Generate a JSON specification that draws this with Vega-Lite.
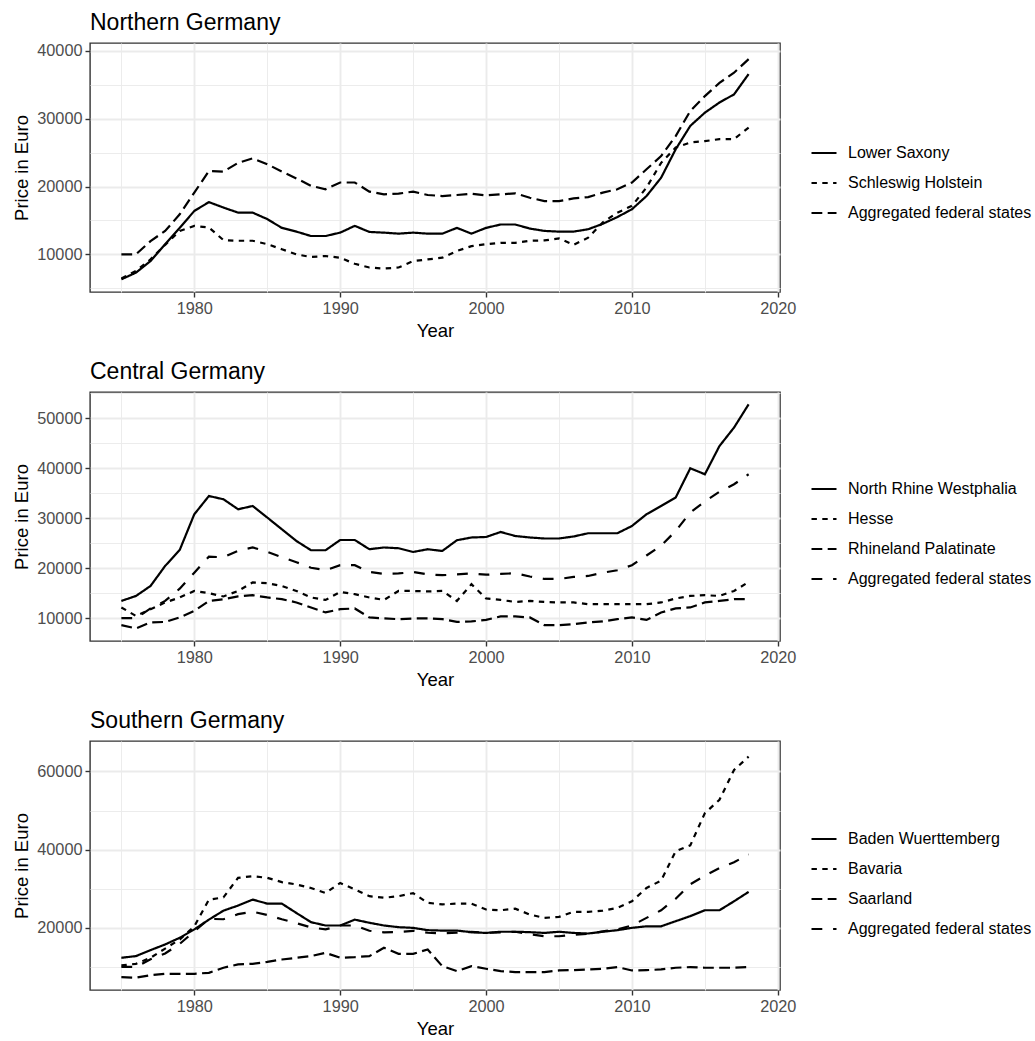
{
"$schema": "https://vega.github.io/schema/vega-lite/v6.json",
"padding": {"left": 12, "top": 11, "right": 0, "bottom": 0},
"background": "white",
"config": {
  "font": "Liberation Sans",
  "view": {"stroke": "#333333", "strokeWidth": 1.4},
  "axis": {"labelFont": "Liberation Sans", "labelFontSize": 16.3, "labelColor": "#4D4D4D", "titleFont": "Liberation Sans", "titleFontSize": 18.5, "titleFontWeight": "normal", "titleColor": "#000000", "domain": false, "tickColor": "#333333", "tickSize": 5, "tickWidth": 1.4, "gridColor": "#EBEBEB", "labelPadding": 3, "titlePadding": 5},
  "title": {"fontSize": 23, "fontWeight": "normal", "anchor": "start", "frame": "group", "color": "#000000", "offset": 8, "font": "Liberation Sans"},
  "legend": {"orient": "none", "title": null, "labelFont": "Liberation Sans", "labelFontSize": 16, "labelColor": "#000000", "labelLimit": 0, "symbolType": "stroke", "symbolSize": 625, "symbolStrokeWidth": 2.2, "symbolStrokeColor": "#000000", "rowPadding": 8, "labelOffset": 10, "padding": 0, "legendX": 720},
  "concat": {"spacing": 19}
},
"datasets": {"d": [
{"region":"North","state":"Lower Saxony","year":1975,"price":6310},{"region":"North","state":"Lower Saxony","year":1976,"price":7300},{"region":"North","state":"Lower Saxony","year":1977,"price":9000},{"region":"North","state":"Lower Saxony","year":1978,"price":11500},{"region":"North","state":"Lower Saxony","year":1979,"price":13900},{"region":"North","state":"Lower Saxony","year":1980,"price":16400},{"region":"North","state":"Lower Saxony","year":1981,"price":17700},{"region":"North","state":"Lower Saxony","year":1982,"price":16900},{"region":"North","state":"Lower Saxony","year":1983,"price":16150},{"region":"North","state":"Lower Saxony","year":1984,"price":16150},
{"region":"North","state":"Lower Saxony","year":1985,"price":15200},{"region":"North","state":"Lower Saxony","year":1986,"price":13900},{"region":"North","state":"Lower Saxony","year":1987,"price":13350},{"region":"North","state":"Lower Saxony","year":1988,"price":12700},{"region":"North","state":"Lower Saxony","year":1989,"price":12700},{"region":"North","state":"Lower Saxony","year":1990,"price":13200},{"region":"North","state":"Lower Saxony","year":1991,"price":14200},{"region":"North","state":"Lower Saxony","year":1992,"price":13300},{"region":"North","state":"Lower Saxony","year":1993,"price":13200},{"region":"North","state":"Lower Saxony","year":1994,"price":13050},
{"region":"North","state":"Lower Saxony","year":1995,"price":13200},{"region":"North","state":"Lower Saxony","year":1996,"price":13050},{"region":"North","state":"Lower Saxony","year":1997,"price":13050},{"region":"North","state":"Lower Saxony","year":1998,"price":13900},{"region":"North","state":"Lower Saxony","year":1999,"price":13050},{"region":"North","state":"Lower Saxony","year":2000,"price":13900},{"region":"North","state":"Lower Saxony","year":2001,"price":14400},{"region":"North","state":"Lower Saxony","year":2002,"price":14400},{"region":"North","state":"Lower Saxony","year":2003,"price":13800},{"region":"North","state":"Lower Saxony","year":2004,"price":13450},
{"region":"North","state":"Lower Saxony","year":2005,"price":13350},{"region":"North","state":"Lower Saxony","year":2006,"price":13350},{"region":"North","state":"Lower Saxony","year":2007,"price":13700},{"region":"North","state":"Lower Saxony","year":2008,"price":14500},{"region":"North","state":"Lower Saxony","year":2009,"price":15500},{"region":"North","state":"Lower Saxony","year":2010,"price":16650},{"region":"North","state":"Lower Saxony","year":2011,"price":18600},{"region":"North","state":"Lower Saxony","year":2012,"price":21300},{"region":"North","state":"Lower Saxony","year":2013,"price":25500},{"region":"North","state":"Lower Saxony","year":2014,"price":28950},
{"region":"North","state":"Lower Saxony","year":2015,"price":30900},{"region":"North","state":"Lower Saxony","year":2016,"price":32400},{"region":"North","state":"Lower Saxony","year":2017,"price":33600},{"region":"North","state":"Lower Saxony","year":2018,"price":36600},
{"region":"North","state":"Schleswig Holstein","year":1975,"price":6450},{"region":"North","state":"Schleswig Holstein","year":1976,"price":7550},{"region":"North","state":"Schleswig Holstein","year":1977,"price":9250},{"region":"North","state":"Schleswig Holstein","year":1978,"price":11400},{"region":"North","state":"Schleswig Holstein","year":1979,"price":13450},{"region":"North","state":"Schleswig Holstein","year":1980,"price":14200},{"region":"North","state":"Schleswig Holstein","year":1981,"price":13950},{"region":"North","state":"Schleswig Holstein","year":1982,"price":12100},{"region":"North","state":"Schleswig Holstein","year":1983,"price":12000},{"region":"North","state":"Schleswig Holstein","year":1984,"price":12000},
{"region":"North","state":"Schleswig Holstein","year":1985,"price":11500},{"region":"North","state":"Schleswig Holstein","year":1986,"price":10750},{"region":"North","state":"Schleswig Holstein","year":1987,"price":10000},{"region":"North","state":"Schleswig Holstein","year":1988,"price":9600},{"region":"North","state":"Schleswig Holstein","year":1989,"price":9750},{"region":"North","state":"Schleswig Holstein","year":1990,"price":9500},{"region":"North","state":"Schleswig Holstein","year":1991,"price":8600},{"region":"North","state":"Schleswig Holstein","year":1992,"price":8050},{"region":"North","state":"Schleswig Holstein","year":1993,"price":7900},{"region":"North","state":"Schleswig Holstein","year":1994,"price":8050},
{"region":"North","state":"Schleswig Holstein","year":1995,"price":9000},{"region":"North","state":"Schleswig Holstein","year":1996,"price":9250},{"region":"North","state":"Schleswig Holstein","year":1997,"price":9500},{"region":"North","state":"Schleswig Holstein","year":1998,"price":10500},{"region":"North","state":"Schleswig Holstein","year":1999,"price":11200},{"region":"North","state":"Schleswig Holstein","year":2000,"price":11500},{"region":"North","state":"Schleswig Holstein","year":2001,"price":11700},{"region":"North","state":"Schleswig Holstein","year":2002,"price":11700},{"region":"North","state":"Schleswig Holstein","year":2003,"price":12000},{"region":"North","state":"Schleswig Holstein","year":2004,"price":12050},
{"region":"North","state":"Schleswig Holstein","year":2005,"price":12350},{"region":"North","state":"Schleswig Holstein","year":2006,"price":11400},{"region":"North","state":"Schleswig Holstein","year":2007,"price":12450},{"region":"North","state":"Schleswig Holstein","year":2008,"price":14700},{"region":"North","state":"Schleswig Holstein","year":2009,"price":16150},{"region":"North","state":"Schleswig Holstein","year":2010,"price":17150},{"region":"North","state":"Schleswig Holstein","year":2011,"price":19850},{"region":"North","state":"Schleswig Holstein","year":2012,"price":23500},{"region":"North","state":"Schleswig Holstein","year":2013,"price":25750},{"region":"North","state":"Schleswig Holstein","year":2014,"price":26500},
{"region":"North","state":"Schleswig Holstein","year":2015,"price":26700},{"region":"North","state":"Schleswig Holstein","year":2016,"price":27000},{"region":"North","state":"Schleswig Holstein","year":2017,"price":27000},{"region":"North","state":"Schleswig Holstein","year":2018,"price":28700},
{"region":"All","state":"Aggregated federal states","year":1975,"price":10000},{"region":"All","state":"Aggregated federal states","year":1976,"price":10000},{"region":"All","state":"Aggregated federal states","year":1977,"price":11950},{"region":"All","state":"Aggregated federal states","year":1978,"price":13450},{"region":"All","state":"Aggregated federal states","year":1979,"price":15900},{"region":"All","state":"Aggregated federal states","year":1980,"price":19100},{"region":"All","state":"Aggregated federal states","year":1981,"price":22300},{"region":"All","state":"Aggregated federal states","year":1982,"price":22200},{"region":"All","state":"Aggregated federal states","year":1983,"price":23500},{"region":"All","state":"Aggregated federal states","year":1984,"price":24150},
{"region":"All","state":"Aggregated federal states","year":1985,"price":23300},{"region":"All","state":"Aggregated federal states","year":1986,"price":22200},{"region":"All","state":"Aggregated federal states","year":1987,"price":21200},{"region":"All","state":"Aggregated federal states","year":1988,"price":20100},{"region":"All","state":"Aggregated federal states","year":1989,"price":19600},{"region":"All","state":"Aggregated federal states","year":1990,"price":20600},{"region":"All","state":"Aggregated federal states","year":1991,"price":20600},{"region":"All","state":"Aggregated federal states","year":1992,"price":19250},{"region":"All","state":"Aggregated federal states","year":1993,"price":18850},{"region":"All","state":"Aggregated federal states","year":1994,"price":18950},
{"region":"All","state":"Aggregated federal states","year":1995,"price":19250},{"region":"All","state":"Aggregated federal states","year":1996,"price":18750},{"region":"All","state":"Aggregated federal states","year":1997,"price":18600},{"region":"All","state":"Aggregated federal states","year":1998,"price":18750},{"region":"All","state":"Aggregated federal states","year":1999,"price":18950},{"region":"All","state":"Aggregated federal states","year":2000,"price":18700},{"region":"All","state":"Aggregated federal states","year":2001,"price":18850},{"region":"All","state":"Aggregated federal states","year":2002,"price":19000},{"region":"All","state":"Aggregated federal states","year":2003,"price":18350},{"region":"All","state":"Aggregated federal states","year":2004,"price":17850},
{"region":"All","state":"Aggregated federal states","year":2005,"price":17850},{"region":"All","state":"Aggregated federal states","year":2006,"price":18250},{"region":"All","state":"Aggregated federal states","year":2007,"price":18450},{"region":"All","state":"Aggregated federal states","year":2008,"price":19100},{"region":"All","state":"Aggregated federal states","year":2009,"price":19600},{"region":"All","state":"Aggregated federal states","year":2010,"price":20600},{"region":"All","state":"Aggregated federal states","year":2011,"price":22550},{"region":"All","state":"Aggregated federal states","year":2012,"price":24500},{"region":"All","state":"Aggregated federal states","year":2013,"price":27450},{"region":"All","state":"Aggregated federal states","year":2014,"price":31150},
{"region":"All","state":"Aggregated federal states","year":2015,"price":33350},{"region":"All","state":"Aggregated federal states","year":2016,"price":35300},{"region":"All","state":"Aggregated federal states","year":2017,"price":36800},{"region":"All","state":"Aggregated federal states","year":2018,"price":38800},
{"region":"Central","state":"North Rhine Westphalia","year":1975,"price":13450},{"region":"Central","state":"North Rhine Westphalia","year":1976,"price":14450},{"region":"Central","state":"North Rhine Westphalia","year":1977,"price":16450},{"region":"Central","state":"North Rhine Westphalia","year":1978,"price":20450},{"region":"Central","state":"North Rhine Westphalia","year":1979,"price":23650},{"region":"Central","state":"North Rhine Westphalia","year":1980,"price":30800},{"region":"Central","state":"North Rhine Westphalia","year":1981,"price":34450},{"region":"Central","state":"North Rhine Westphalia","year":1982,"price":33800},{"region":"Central","state":"North Rhine Westphalia","year":1983,"price":31800},{"region":"Central","state":"North Rhine Westphalia","year":1984,"price":32450},
{"region":"Central","state":"North Rhine Westphalia","year":1985,"price":30150},{"region":"Central","state":"North Rhine Westphalia","year":1986,"price":27800},{"region":"Central","state":"North Rhine Westphalia","year":1987,"price":25450},{"region":"Central","state":"North Rhine Westphalia","year":1988,"price":23600},{"region":"Central","state":"North Rhine Westphalia","year":1989,"price":23600},{"region":"Central","state":"North Rhine Westphalia","year":1990,"price":25650},{"region":"Central","state":"North Rhine Westphalia","year":1991,"price":25650},{"region":"Central","state":"North Rhine Westphalia","year":1992,"price":23800},{"region":"Central","state":"North Rhine Westphalia","year":1993,"price":24150},{"region":"Central","state":"North Rhine Westphalia","year":1994,"price":24000},
{"region":"Central","state":"North Rhine Westphalia","year":1995,"price":23250},{"region":"Central","state":"North Rhine Westphalia","year":1996,"price":23800},{"region":"Central","state":"North Rhine Westphalia","year":1997,"price":23450},{"region":"Central","state":"North Rhine Westphalia","year":1998,"price":25600},{"region":"Central","state":"North Rhine Westphalia","year":1999,"price":26150},{"region":"Central","state":"North Rhine Westphalia","year":2000,"price":26250},{"region":"Central","state":"North Rhine Westphalia","year":2001,"price":27250},{"region":"Central","state":"North Rhine Westphalia","year":2002,"price":26450},{"region":"Central","state":"North Rhine Westphalia","year":2003,"price":26150},{"region":"Central","state":"North Rhine Westphalia","year":2004,"price":25950},
{"region":"Central","state":"North Rhine Westphalia","year":2005,"price":25950},{"region":"Central","state":"North Rhine Westphalia","year":2006,"price":26350},{"region":"Central","state":"North Rhine Westphalia","year":2007,"price":27000},{"region":"Central","state":"North Rhine Westphalia","year":2008,"price":27000},{"region":"Central","state":"North Rhine Westphalia","year":2009,"price":27000},{"region":"Central","state":"North Rhine Westphalia","year":2010,"price":28450},{"region":"Central","state":"North Rhine Westphalia","year":2011,"price":30800},{"region":"Central","state":"North Rhine Westphalia","year":2012,"price":32450},{"region":"Central","state":"North Rhine Westphalia","year":2013,"price":34150},{"region":"Central","state":"North Rhine Westphalia","year":2014,"price":40000},
{"region":"Central","state":"North Rhine Westphalia","year":2015,"price":38800},{"region":"Central","state":"North Rhine Westphalia","year":2016,"price":44450},{"region":"Central","state":"North Rhine Westphalia","year":2017,"price":48150},{"region":"Central","state":"North Rhine Westphalia","year":2018,"price":52800},
{"region":"Central","state":"Hesse","year":1975,"price":12150},{"region":"Central","state":"Hesse","year":1976,"price":10450},{"region":"Central","state":"Hesse","year":1977,"price":11800},{"region":"Central","state":"Hesse","year":1978,"price":13150},{"region":"Central","state":"Hesse","year":1979,"price":14150},{"region":"Central","state":"Hesse","year":1980,"price":15450},{"region":"Central","state":"Hesse","year":1981,"price":15000},{"region":"Central","state":"Hesse","year":1982,"price":14350},{"region":"Central","state":"Hesse","year":1983,"price":15450},{"region":"Central","state":"Hesse","year":1984,"price":17150},
{"region":"Central","state":"Hesse","year":1985,"price":17000},{"region":"Central","state":"Hesse","year":1986,"price":16450},{"region":"Central","state":"Hesse","year":1987,"price":15450},{"region":"Central","state":"Hesse","year":1988,"price":14150},{"region":"Central","state":"Hesse","year":1989,"price":13650},{"region":"Central","state":"Hesse","year":1990,"price":15250},{"region":"Central","state":"Hesse","year":1991,"price":14800},{"region":"Central","state":"Hesse","year":1992,"price":14150},{"region":"Central","state":"Hesse","year":1993,"price":13650},{"region":"Central","state":"Hesse","year":1994,"price":15450},
{"region":"Central","state":"Hesse","year":1995,"price":15450},{"region":"Central","state":"Hesse","year":1996,"price":15350},{"region":"Central","state":"Hesse","year":1997,"price":15450},{"region":"Central","state":"Hesse","year":1998,"price":13450},{"region":"Central","state":"Hesse","year":1999,"price":16800},{"region":"Central","state":"Hesse","year":2000,"price":13950},{"region":"Central","state":"Hesse","year":2001,"price":13650},{"region":"Central","state":"Hesse","year":2002,"price":13250},{"region":"Central","state":"Hesse","year":2003,"price":13450},{"region":"Central","state":"Hesse","year":2004,"price":13250},
{"region":"Central","state":"Hesse","year":2005,"price":13150},{"region":"Central","state":"Hesse","year":2006,"price":13150},{"region":"Central","state":"Hesse","year":2007,"price":12800},{"region":"Central","state":"Hesse","year":2008,"price":12800},{"region":"Central","state":"Hesse","year":2009,"price":12800},{"region":"Central","state":"Hesse","year":2010,"price":12800},{"region":"Central","state":"Hesse","year":2011,"price":12800},{"region":"Central","state":"Hesse","year":2012,"price":13150},{"region":"Central","state":"Hesse","year":2013,"price":13950},{"region":"Central","state":"Hesse","year":2014,"price":14450},
{"region":"Central","state":"Hesse","year":2015,"price":14600},{"region":"Central","state":"Hesse","year":2016,"price":14450},{"region":"Central","state":"Hesse","year":2017,"price":15450},{"region":"Central","state":"Hesse","year":2018,"price":17250},
{"region":"Central","state":"Rhineland Palatinate","year":1975,"price":8600},{"region":"Central","state":"Rhineland Palatinate","year":1976,"price":7950},{"region":"Central","state":"Rhineland Palatinate","year":1977,"price":9150},{"region":"Central","state":"Rhineland Palatinate","year":1978,"price":9250},{"region":"Central","state":"Rhineland Palatinate","year":1979,"price":10150},{"region":"Central","state":"Rhineland Palatinate","year":1980,"price":11450},{"region":"Central","state":"Rhineland Palatinate","year":1981,"price":13450},{"region":"Central","state":"Rhineland Palatinate","year":1982,"price":13800},{"region":"Central","state":"Rhineland Palatinate","year":1983,"price":14350},{"region":"Central","state":"Rhineland Palatinate","year":1984,"price":14600},
{"region":"Central","state":"Rhineland Palatinate","year":1985,"price":14150},{"region":"Central","state":"Rhineland Palatinate","year":1986,"price":13800},{"region":"Central","state":"Rhineland Palatinate","year":1987,"price":13150},{"region":"Central","state":"Rhineland Palatinate","year":1988,"price":12150},{"region":"Central","state":"Rhineland Palatinate","year":1989,"price":11150},{"region":"Central","state":"Rhineland Palatinate","year":1990,"price":11800},{"region":"Central","state":"Rhineland Palatinate","year":1991,"price":11950},{"region":"Central","state":"Rhineland Palatinate","year":1992,"price":10150},{"region":"Central","state":"Rhineland Palatinate","year":1993,"price":9950},{"region":"Central","state":"Rhineland Palatinate","year":1994,"price":9800},
{"region":"Central","state":"Rhineland Palatinate","year":1995,"price":9950},{"region":"Central","state":"Rhineland Palatinate","year":1996,"price":9950},{"region":"Central","state":"Rhineland Palatinate","year":1997,"price":9800},{"region":"Central","state":"Rhineland Palatinate","year":1998,"price":9250},{"region":"Central","state":"Rhineland Palatinate","year":1999,"price":9350},{"region":"Central","state":"Rhineland Palatinate","year":2000,"price":9650},{"region":"Central","state":"Rhineland Palatinate","year":2001,"price":10350},{"region":"Central","state":"Rhineland Palatinate","year":2002,"price":10350},{"region":"Central","state":"Rhineland Palatinate","year":2003,"price":10150},{"region":"Central","state":"Rhineland Palatinate","year":2004,"price":8600},
{"region":"Central","state":"Rhineland Palatinate","year":2005,"price":8600},{"region":"Central","state":"Rhineland Palatinate","year":2006,"price":8800},{"region":"Central","state":"Rhineland Palatinate","year":2007,"price":9150},{"region":"Central","state":"Rhineland Palatinate","year":2008,"price":9350},{"region":"Central","state":"Rhineland Palatinate","year":2009,"price":9800},{"region":"Central","state":"Rhineland Palatinate","year":2010,"price":10150},{"region":"Central","state":"Rhineland Palatinate","year":2011,"price":9650},{"region":"Central","state":"Rhineland Palatinate","year":2012,"price":11150},{"region":"Central","state":"Rhineland Palatinate","year":2013,"price":11950},{"region":"Central","state":"Rhineland Palatinate","year":2014,"price":12150},
{"region":"Central","state":"Rhineland Palatinate","year":2015,"price":13150},{"region":"Central","state":"Rhineland Palatinate","year":2016,"price":13450},{"region":"Central","state":"Rhineland Palatinate","year":2017,"price":13800},{"region":"Central","state":"Rhineland Palatinate","year":2018,"price":13800},
{"region":"South","state":"Baden Wuerttemberg","year":1975,"price":12340},{"region":"South","state":"Baden Wuerttemberg","year":1976,"price":12770},{"region":"South","state":"Baden Wuerttemberg","year":1977,"price":14300},{"region":"South","state":"Baden Wuerttemberg","year":1978,"price":15750},{"region":"South","state":"Baden Wuerttemberg","year":1979,"price":17450},{"region":"South","state":"Baden Wuerttemberg","year":1980,"price":19600},{"region":"South","state":"Baden Wuerttemberg","year":1981,"price":22100},{"region":"South","state":"Baden Wuerttemberg","year":1982,"price":24400},{"region":"South","state":"Baden Wuerttemberg","year":1983,"price":25700},{"region":"South","state":"Baden Wuerttemberg","year":1984,"price":27230},
{"region":"South","state":"Baden Wuerttemberg","year":1985,"price":26200},{"region":"South","state":"Baden Wuerttemberg","year":1986,"price":26200},{"region":"South","state":"Baden Wuerttemberg","year":1987,"price":23800},{"region":"South","state":"Baden Wuerttemberg","year":1988,"price":21450},{"region":"South","state":"Baden Wuerttemberg","year":1989,"price":20600},{"region":"South","state":"Baden Wuerttemberg","year":1990,"price":20600},{"region":"South","state":"Baden Wuerttemberg","year":1991,"price":22100},{"region":"South","state":"Baden Wuerttemberg","year":1992,"price":21300},{"region":"South","state":"Baden Wuerttemberg","year":1993,"price":20600},{"region":"South","state":"Baden Wuerttemberg","year":1994,"price":20170},
{"region":"South","state":"Baden Wuerttemberg","year":1995,"price":20000},{"region":"South","state":"Baden Wuerttemberg","year":1996,"price":19400},{"region":"South","state":"Baden Wuerttemberg","year":1997,"price":19300},{"region":"South","state":"Baden Wuerttemberg","year":1998,"price":19300},{"region":"South","state":"Baden Wuerttemberg","year":1999,"price":18900},{"region":"South","state":"Baden Wuerttemberg","year":2000,"price":18700},{"region":"South","state":"Baden Wuerttemberg","year":2001,"price":19000},{"region":"South","state":"Baden Wuerttemberg","year":2002,"price":19000},{"region":"South","state":"Baden Wuerttemberg","year":2003,"price":18900},{"region":"South","state":"Baden Wuerttemberg","year":2004,"price":18700},
{"region":"South","state":"Baden Wuerttemberg","year":2005,"price":19000},{"region":"South","state":"Baden Wuerttemberg","year":2006,"price":18700},{"region":"South","state":"Baden Wuerttemberg","year":2007,"price":18550},{"region":"South","state":"Baden Wuerttemberg","year":2008,"price":19000},{"region":"South","state":"Baden Wuerttemberg","year":2009,"price":19400},{"region":"South","state":"Baden Wuerttemberg","year":2010,"price":20000},{"region":"South","state":"Baden Wuerttemberg","year":2011,"price":20400},{"region":"South","state":"Baden Wuerttemberg","year":2012,"price":20400},{"region":"South","state":"Baden Wuerttemberg","year":2013,"price":21700},{"region":"South","state":"Baden Wuerttemberg","year":2014,"price":23000},
{"region":"South","state":"Baden Wuerttemberg","year":2015,"price":24500},{"region":"South","state":"Baden Wuerttemberg","year":2016,"price":24500},{"region":"South","state":"Baden Wuerttemberg","year":2017,"price":26800},{"region":"South","state":"Baden Wuerttemberg","year":2018,"price":29200},
{"region":"South","state":"Bavaria","year":1975,"price":10400},{"region":"South","state":"Bavaria","year":1976,"price":10800},{"region":"South","state":"Bavaria","year":1977,"price":12340},{"region":"South","state":"Bavaria","year":1978,"price":14700},{"region":"South","state":"Bavaria","year":1979,"price":17000},{"region":"South","state":"Bavaria","year":1980,"price":20400},{"region":"South","state":"Bavaria","year":1981,"price":27200},{"region":"South","state":"Bavaria","year":1982,"price":27800},{"region":"South","state":"Bavaria","year":1983,"price":32800},{"region":"South","state":"Bavaria","year":1984,"price":33200},
{"region":"South","state":"Bavaria","year":1985,"price":32800},{"region":"South","state":"Bavaria","year":1986,"price":31700},{"region":"South","state":"Bavaria","year":1987,"price":31100},{"region":"South","state":"Bavaria","year":1988,"price":30200},{"region":"South","state":"Bavaria","year":1989,"price":28900},{"region":"South","state":"Bavaria","year":1990,"price":31500},{"region":"South","state":"Bavaria","year":1991,"price":29800},{"region":"South","state":"Bavaria","year":1992,"price":28100},{"region":"South","state":"Bavaria","year":1993,"price":27700},{"region":"South","state":"Bavaria","year":1994,"price":28100},
{"region":"South","state":"Bavaria","year":1995,"price":28900},{"region":"South","state":"Bavaria","year":1996,"price":26400},{"region":"South","state":"Bavaria","year":1997,"price":26000},{"region":"South","state":"Bavaria","year":1998,"price":26200},{"region":"South","state":"Bavaria","year":1999,"price":26200},{"region":"South","state":"Bavaria","year":2000,"price":24700},{"region":"South","state":"Bavaria","year":2001,"price":24500},{"region":"South","state":"Bavaria","year":2002,"price":24900},{"region":"South","state":"Bavaria","year":2003,"price":23400},{"region":"South","state":"Bavaria","year":2004,"price":22550},
{"region":"South","state":"Bavaria","year":2005,"price":22800},{"region":"South","state":"Bavaria","year":2006,"price":24100},{"region":"South","state":"Bavaria","year":2007,"price":24100},{"region":"South","state":"Bavaria","year":2008,"price":24400},{"region":"South","state":"Bavaria","year":2009,"price":25100},{"region":"South","state":"Bavaria","year":2010,"price":26800},{"region":"South","state":"Bavaria","year":2011,"price":30200},{"region":"South","state":"Bavaria","year":2012,"price":32100},{"region":"South","state":"Bavaria","year":2013,"price":39600},{"region":"South","state":"Bavaria","year":2014,"price":41100},
{"region":"South","state":"Bavaria","year":2015,"price":49350},{"region":"South","state":"Bavaria","year":2016,"price":52750},{"region":"South","state":"Bavaria","year":2017,"price":60400},{"region":"South","state":"Bavaria","year":2018,"price":63800},
{"region":"South","state":"Saarland","year":1975,"price":7400},{"region":"South","state":"Saarland","year":1976,"price":7250},{"region":"South","state":"Saarland","year":1977,"price":7900},{"region":"South","state":"Saarland","year":1978,"price":8250},{"region":"South","state":"Saarland","year":1979,"price":8250},{"region":"South","state":"Saarland","year":1980,"price":8250},{"region":"South","state":"Saarland","year":1981,"price":8500},{"region":"South","state":"Saarland","year":1982,"price":9800},{"region":"South","state":"Saarland","year":1983,"price":10640},{"region":"South","state":"Saarland","year":1984,"price":10800},
{"region":"South","state":"Saarland","year":1985,"price":11300},{"region":"South","state":"Saarland","year":1986,"price":11900},{"region":"South","state":"Saarland","year":1987,"price":12340},{"region":"South","state":"Saarland","year":1988,"price":12770},{"region":"South","state":"Saarland","year":1989,"price":13600},{"region":"South","state":"Saarland","year":1990,"price":12340},{"region":"South","state":"Saarland","year":1991,"price":12500},{"region":"South","state":"Saarland","year":1992,"price":12770},{"region":"South","state":"Saarland","year":1993,"price":14900},{"region":"South","state":"Saarland","year":1994,"price":13350},
{"region":"South","state":"Saarland","year":1995,"price":13350},{"region":"South","state":"Saarland","year":1996,"price":14470},{"region":"South","state":"Saarland","year":1997,"price":10200},{"region":"South","state":"Saarland","year":1998,"price":8940},{"region":"South","state":"Saarland","year":1999,"price":10200},{"region":"South","state":"Saarland","year":2000,"price":9530},{"region":"South","state":"Saarland","year":2001,"price":8940},{"region":"South","state":"Saarland","year":2002,"price":8680},{"region":"South","state":"Saarland","year":2003,"price":8680},{"region":"South","state":"Saarland","year":2004,"price":8680},
{"region":"South","state":"Saarland","year":2005,"price":9100},{"region":"South","state":"Saarland","year":2006,"price":9190},{"region":"South","state":"Saarland","year":2007,"price":9360},{"region":"South","state":"Saarland","year":2008,"price":9530},{"region":"South","state":"Saarland","year":2009,"price":9960},{"region":"South","state":"Saarland","year":2010,"price":9100},{"region":"South","state":"Saarland","year":2011,"price":9190},{"region":"South","state":"Saarland","year":2012,"price":9360},{"region":"South","state":"Saarland","year":2013,"price":9790},{"region":"South","state":"Saarland","year":2014,"price":9960},
{"region":"South","state":"Saarland","year":2015,"price":9790},{"region":"South","state":"Saarland","year":2016,"price":9790},{"region":"South","state":"Saarland","year":2017,"price":9790},{"region":"South","state":"Saarland","year":2018,"price":9960}
]},
"vconcat": [
{
  "title": "Northern Germany",
  "width": 690, "height": 249,
  "data": {"name": "d"},
  "transform": [{"filter": "datum.region === 'North' || datum.region === 'All'"}],
  "mark": {"type": "line", "stroke": "#000000", "strokeWidth": 2.2, "strokeCap": "butt"},
  "encoding": {
    "x": {"field": "year", "type": "quantitative", "scale": {"domain": [1972.85, 2020.15], "nice": false, "zero": false},
      "axis": {"title": "Year", "values": [1975,1980,1985,1990,1995,2000,2005,2010,2015,2020], "format": "d", "labelExpr": "datum.value % 10 === 0 ? datum.label : ''",
        "tickOpacity": {"condition": {"test": "datum.value % 10 === 0", "value": 1}, "value": 0},
        "gridWidth": {"condition": {"test": "datum.value % 10 === 0", "value": 1.9}, "value": 0.95}}},
    "y": {"field": "price", "type": "quantitative", "scale": {"domain": [4440, 41180], "nice": false, "zero": false},
      "axis": {"title": "Price in Euro", "values": [5000,10000,15000,20000,25000,30000,35000,40000], "format": "d", "labelExpr": "datum.value % 10000 === 0 ? datum.label : ''",
        "tickOpacity": {"condition": {"test": "datum.value % 10000 === 0", "value": 1}, "value": 0},
        "gridWidth": {"condition": {"test": "datum.value % 10000 === 0", "value": 1.9}, "value": 0.95}}},
    "strokeDash": {"field": "state", "type": "nominal",
      "scale": {"domain": ["Lower Saxony", "Schleswig Holstein", "Aggregated federal states"], "range": [[1,0],[5.4,5.4],[10.8,5.4]]},
      "legend": {"legendY": 96}}
  }
},
{
  "title": "Central Germany",
  "width": 690, "height": 249,
  "data": {"name": "d"},
  "transform": [{"filter": "datum.region === 'Central' || datum.region === 'All'"}],
  "mark": {"type": "line", "stroke": "#000000", "strokeWidth": 2.2, "strokeCap": "butt"},
  "encoding": {
    "x": {"field": "year", "type": "quantitative", "scale": {"domain": [1972.85, 2020.15], "nice": false, "zero": false},
      "axis": {"title": "Year", "values": [1975,1980,1985,1990,1995,2000,2005,2010,2015,2020], "format": "d", "labelExpr": "datum.value % 10 === 0 ? datum.label : ''",
        "tickOpacity": {"condition": {"test": "datum.value % 10 === 0", "value": 1}, "value": 0},
        "gridWidth": {"condition": {"test": "datum.value % 10 === 0", "value": 1.9}, "value": 0.95}}},
    "y": {"field": "price", "type": "quantitative", "scale": {"domain": [5435, 55265], "nice": false, "zero": false},
      "axis": {"title": "Price in Euro", "values": [10000,15000,20000,25000,30000,35000,40000,45000,50000,55000], "format": "d", "labelExpr": "datum.value % 10000 === 0 ? datum.label : ''",
        "tickOpacity": {"condition": {"test": "datum.value % 10000 === 0", "value": 1}, "value": 0},
        "gridWidth": {"condition": {"test": "datum.value % 10000 === 0", "value": 1.9}, "value": 0.95}}},
    "strokeDash": {"field": "state", "type": "nominal",
      "scale": {"domain": ["North Rhine Westphalia", "Hesse", "Rhineland Palatinate", "Aggregated federal states"], "range": [[1,0],[5.4,5.4],[10.8,5.4],[10.8,10.8]]},
      "legend": {"legendY": 83}}
  }
},
{
  "title": "Southern Germany",
  "width": 690, "height": 249,
  "data": {"name": "d"},
  "transform": [{"filter": "datum.region === 'South' || datum.region === 'All'"}],
  "mark": {"type": "line", "stroke": "#000000", "strokeWidth": 2.2, "strokeCap": "butt"},
  "encoding": {
    "x": {"field": "year", "type": "quantitative", "scale": {"domain": [1972.85, 2020.15], "nice": false, "zero": false},
      "axis": {"title": "Year", "values": [1975,1980,1985,1990,1995,2000,2005,2010,2015,2020], "format": "d", "labelExpr": "datum.value % 10 === 0 ? datum.label : ''",
        "tickOpacity": {"condition": {"test": "datum.value % 10 === 0", "value": 1}, "value": 0},
        "gridWidth": {"condition": {"test": "datum.value % 10 === 0", "value": 1.9}, "value": 0.95}}},
    "y": {"field": "price", "type": "quantitative", "scale": {"domain": [4100, 67800], "nice": false, "zero": false},
      "axis": {"title": "Price in Euro", "values": [10000,20000,30000,40000,50000,60000], "format": "d", "labelExpr": "datum.value % 20000 === 0 ? datum.label : ''",
        "tickOpacity": {"condition": {"test": "datum.value % 20000 === 0", "value": 1}, "value": 0},
        "gridWidth": {"condition": {"test": "datum.value % 20000 === 0", "value": 1.9}, "value": 0.95}}},
    "strokeDash": {"field": "state", "type": "nominal",
      "scale": {"domain": ["Baden Wuerttemberg", "Bavaria", "Saarland", "Aggregated federal states"], "range": [[1,0],[5.4,5.4],[10.8,5.4],[10.8,10.8]]},
      "legend": {"legendY": 84}}
  }
}
],
"resolve": {"scale": {"strokeDash": "independent", "y": "independent"}, "legend": {"strokeDash": "independent"}}
}
